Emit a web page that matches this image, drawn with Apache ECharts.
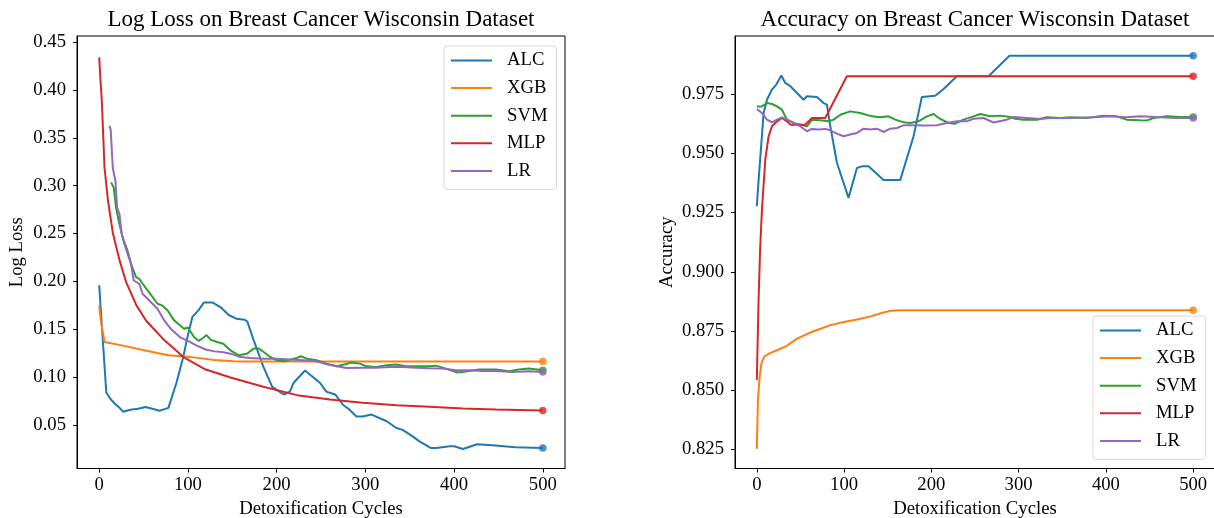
<!DOCTYPE html>
<html>
<head>
<meta charset="utf-8">
<script src="https://cdn.jsdelivr.net/npm/echarts@6/dist/echarts.min.js"></script>
<style>
html,body{margin:0;padding:0;background:#fff;}
#c{width:1214px;height:518px;}
</style>
</head>
<body>
<div id="c"></div>
<script>
// ---------- data ----------
const seriesNames = ['ALC', 'XGB', 'SVM', 'MLP', 'LR'];
const xTicks = [0, 100, 200, 300, 400, 500];
const lossTicks = [0.05, 0.10, 0.15, 0.20, 0.25, 0.30, 0.35, 0.40, 0.45];
const accTicks = [0.825, 0.850, 0.875, 0.900, 0.925, 0.950, 0.975];

// Log loss (x = detoxification cycle, y = log loss)
const lossALC = [[0,0.196],[8,0.084],[13,0.077],[18,0.072],[22,0.069],[27,0.064],[35,0.066],[44,0.067],[52,0.069],[60,0.067],[68,0.065],[78,0.068],[87,0.094],[95,0.122],[99,0.140],[105,0.163],[112,0.170],[118,0.178],[128,0.178],[137,0.173],[146,0.165],[155,0.161],[164,0.160],[167,0.158],[174,0.139],[185,0.111],[195,0.090],[208,0.082],[215,0.085],[219,0.094],[232,0.107],[249,0.094],[256,0.085],[266,0.082],[275,0.071],[281,0.067],[290,0.059],[297,0.059],[307,0.061],[324,0.054],[335,0.047],[342,0.045],[352,0.039],[361,0.033],[374,0.026],[380,0.026],[395,0.028],[400,0.028],[410,0.025],[426,0.030],[443,0.029],[469,0.027],[500,0.026]];
const lossXGB = [[0,0.175],[2,0.158],[6,0.137],[10,0.136],[27,0.133],[52,0.128],[78,0.123],[104,0.121],[130,0.118],[151,0.1168],[165,0.1165],[500,0.1165]];
const lossSVM = [[13.4,0.3035],[16.4,0.298],[19,0.277],[22.8,0.260],[26.5,0.246],[32,0.232],[36,0.218],[41.5,0.2045],[45,0.203],[49,0.1976],[54.5,0.1906],[60,0.184],[65.7,0.1767],[71,0.175],[77,0.170],[84.4,0.1594],[90,0.155],[95.6,0.1507],[100,0.152],[106.8,0.142],[112,0.138],[117,0.141],[121,0.144],[126,0.139],[132,0.137],[140,0.135],[148,0.128],[157,0.123],[166.6,0.1246],[174,0.1299],[180,0.1299],[185.4,0.1264],[192.8,0.1212],[200.3,0.1177],[207.8,0.1167],[215.2,0.1184],[222.7,0.1201],[227.2,0.1219],[234,0.1194],[245,0.1177],[256.4,0.1142],[267.6,0.1114],[277,0.1135],[284.4,0.1153],[293.7,0.1142],[301.2,0.1114],[312.4,0.1108],[323.6,0.1125],[334.8,0.1132],[346,0.1114],[357.2,0.1114],[372.2,0.1114],[379.6,0.1121],[390.8,0.109],[403.9,0.1049],[417,0.1066],[428.3,0.108],[447,0.108],[461.9,0.1062],[473.1,0.108],[484.3,0.109],[500,0.1073]];
const lossMLP = [[0,0.434],[1.5,0.41],[3,0.388],[6,0.319],[10,0.284],[15.5,0.250],[23,0.222],[30.5,0.199],[42,0.175],[53,0.159],[72,0.140],[95,0.121],[120,0.108],[148,0.0997],[185,0.090],[223,0.0813],[260,0.0767],[297,0.0733],[335,0.0708],[372,0.0691],[410,0.0674],[447,0.0663],[500,0.0653]];
const lossLR = [[11.6,0.3625],[13,0.358],[15.3,0.319],[18.3,0.305],[20.2,0.277],[22.8,0.2705],[25.4,0.2497],[28.4,0.2393],[32.1,0.2288],[35.9,0.2184],[38.9,0.201],[45.2,0.1976],[48.9,0.1872],[56.4,0.1802],[65.7,0.1715],[73.2,0.1594],[80.6,0.1507],[91.8,0.1413],[100,0.138],[110,0.133],[120,0.129],[130,0.127],[140,0.126],[148,0.1246],[159.2,0.1212],[170.4,0.1201],[185.4,0.1194],[200.3,0.1194],[215.2,0.1184],[230.2,0.1177],[245.1,0.1167],[256.4,0.1135],[267.6,0.1114],[278.9,0.1097],[297.6,0.110],[312.4,0.110],[327.4,0.1108],[342.3,0.1108],[357.2,0.110],[372.2,0.1094],[387.1,0.109],[402.1,0.1073],[417,0.1073],[431.9,0.1066],[447,0.1066],[465.7,0.1055],[484.3,0.1062],[500,0.1055]];

// Accuracy
const accALC = [[0,0.9277],[2.1,0.939],[7.8,0.967],[11.6,0.9726],[17.4,0.9769],[22.3,0.979],[28.1,0.9828],[32.6,0.9797],[38.4,0.9783],[53.6,0.9726],[57.4,0.9741],[68.9,0.9738],[76.5,0.9712],[80.3,0.9705],[84.2,0.9614],[91.8,0.946],[105.1,0.9312],[114.7,0.9438],[120.4,0.9445],[128,0.9445],[145.2,0.9387],[164.3,0.9387],[179.6,0.9572],[189.1,0.9738],[204.4,0.9743],[214,0.9771],[229.2,0.9825],[265.5,0.9825],[289.5,0.9912],[500,0.9912]];
const accXGB = [[0,0.8253],[1.3,0.8463],[3.4,0.8562],[5.5,0.8618],[8.8,0.8643],[15.1,0.8657],[23.5,0.867],[33.1,0.8685],[46.6,0.8719],[63.3,0.8747],[84.3,0.8775],[101.1,0.8789],[117.9,0.8801],[130.5,0.8812],[143,0.8826],[153.5,0.8836],[164,0.8838],[500,0.8838]];
const accSVM = [[0,0.9698],[5.9,0.9698],[11.6,0.9712],[17.4,0.9708],[23.1,0.9698],[28.8,0.9684],[34.5,0.9642],[42.2,0.9628],[49.8,0.9621],[57.4,0.9614],[63.2,0.9642],[72.7,0.9639],[82.2,0.9635],[88,0.9642],[95.6,0.9663],[107,0.9677],[118.5,0.967],[131.9,0.9656],[141.4,0.9652],[151,0.9656],[158.6,0.9642],[168.1,0.9631],[175.8,0.9628],[185.3,0.9635],[194.8,0.9656],[202.5,0.9666],[210.1,0.9645],[219.7,0.9628],[227.3,0.9625],[236.8,0.9642],[248.3,0.9656],[255.9,0.9666],[267.4,0.9656],[278.8,0.9659],[290.2,0.9653],[296,0.9646],[305.5,0.9642],[320.8,0.9642],[332.2,0.9652],[347.5,0.9649],[359,0.9652],[378,0.9649],[397.1,0.9659],[412.4,0.9656],[423.8,0.9642],[439.1,0.9639],[446.7,0.9638],[454.4,0.9649],[469.6,0.9656],[484.9,0.9653],[500,0.9653]];
const accMLP = [[0,0.8544],[2,0.888],[3.8,0.9096],[5.9,0.9263],[9.7,0.9474],[13.5,0.9572],[17.4,0.9614],[23.1,0.9635],[28.8,0.9649],[34.5,0.9635],[38.4,0.9621],[55.5,0.9621],[63.2,0.9649],[78.4,0.9649],[103.2,0.9825],[500,0.9825]];
const accLR = [[0,0.9687],[5.9,0.967],[11.6,0.9642],[17.4,0.9631],[23.1,0.9642],[28.8,0.9652],[34.5,0.9642],[42.2,0.9628],[49.8,0.9614],[57.4,0.9593],[63.2,0.9603],[70.8,0.96],[78.4,0.9603],[84.2,0.9597],[91.8,0.9583],[99.4,0.9572],[107,0.9579],[114.7,0.9586],[122.3,0.9604],[130,0.96],[137.6,0.9604],[145.2,0.959],[152.9,0.9604],[160.5,0.9607],[168.1,0.9618],[175.8,0.9618],[191,0.9617],[206.3,0.9618],[217.7,0.9628],[229.2,0.9635],[240.6,0.9635],[248.3,0.9646],[259.7,0.9649],[271.2,0.963],[286.4,0.9642],[294.1,0.9653],[309.3,0.9649],[324.6,0.9645],[336,0.9649],[359,0.9649],[385.7,0.9652],[404.8,0.9656],[423.8,0.9652],[439.1,0.9656],[462,0.9652],[481.1,0.9649],[500,0.9649]];

// ---------- chart ----------
const colors = ['#1f77b4', '#ff7f0e', '#2ca02c', '#d62728', '#9467bd'];
const FONT = '"Liberation Serif", "Times New Roman", serif';
const lossData = [lossALC, lossXGB, lossSVM, lossMLP, lossLR];
const accData = [accALC, accXGB, accSVM, accMLP, accLR];

function xAxisCfg(gi) {
  return {
    gridIndex: gi, type: 'value', min: -25, max: 525,
    axisLine: {show: true, onZero: false, lineStyle: {color: '#000', width: 1}},
    axisTick: {show: true, inside: false, length: 4, lineStyle: {color: '#000', width: 1}, customValues: xTicks},
    axisLabel: {customValues: xTicks, margin: 7, fontFamily: FONT, fontSize: 18.7, color: '#000'},
    splitLine: {show: false},
    name: 'Detoxification Cycles', nameLocation: 'middle', nameGap: 29,
    nameTextStyle: {fontFamily: FONT, fontSize: 18.7, color: '#000'}
  };
}
function yAxisCfg(gi, min, max, ticks, dec, name, gap) {
  return {
    gridIndex: gi, type: 'value', min: min, max: max,
    axisLine: {show: true, onZero: false, lineStyle: {color: '#000', width: 1}},
    axisTick: {show: true, inside: false, length: 4, lineStyle: {color: '#000', width: 1}, customValues: ticks},
    axisLabel: {customValues: ticks, margin: 11, fontFamily: FONT, fontSize: 18.7, color: '#000',
      formatter: v => Number(v).toFixed(dec)},
    splitLine: {show: false},
    name: name, nameLocation: 'middle', nameGap: gap,
    nameTextStyle: {fontFamily: FONT, fontSize: 18.7, color: '#000'}
  };
}
function legendCfg(left, top) {
  return {
    orient: 'vertical', left: left, top: top,
    icon: 'rect', itemWidth: 41, itemHeight: 2, itemGap: 8.6,
    padding: [5, 9, 9, 7],
    borderColor: '#d9d9d9', borderWidth: 1, borderRadius: 3,
    backgroundColor: 'rgba(255,255,255,0.85)',
    textStyle: {fontFamily: FONT, fontSize: 18.7, color: '#000', lineHeight: 19, padding: [0, 0, 0, 10]},
    data: seriesNames
  };
}

const series = [];
[lossData, accData].forEach((set, gi) => {
  set.forEach((d, i) => {
    series.push({
      name: seriesNames[i], type: 'line', xAxisIndex: gi, yAxisIndex: gi,
      data: d, showSymbol: false, symbol: 'none', color: colors[i],
      lineStyle: {width: 2, color: colors[i]}, z: 2 + i, animation: false
    });
  });
  set.forEach((d, i) => {
    series.push({
      name: seriesNames[i] + ' end', type: 'scatter', xAxisIndex: gi, yAxisIndex: gi,
      data: [d[d.length - 1]], symbol: 'circle', symbolSize: 7.5,
      itemStyle: {color: colors[i]}, z: 10 + i, animation: false
    });
  });
});

const chart = echarts.init(document.getElementById('c'), null, {renderer: 'canvas'});
chart.setOption({
  backgroundColor: '#fff',
  animation: false,
  grid: [
    {left: 77, top: 36, width: 488, height: 432.5, show: true, borderColor: '#000', borderWidth: 1, containLabel: false, outerBoundsMode: 'none'},
    {left: 735, top: 36, width: 480, height: 432.5, show: true, borderColor: '#000', borderWidth: 1, containLabel: false, outerBoundsMode: 'none'}
  ],
  xAxis: [xAxisCfg(0), xAxisCfg(1)],
  yAxis: [
    yAxisCfg(0, 0.0047, 0.4563, lossTicks, 2, 'Log Loss', 50),
    yAxisCfg(1, 0.8170, 0.9995, accTicks, 3, 'Accuracy', 58)
  ],
  legend: [legendCfg(444, 46), legendCfg(1093, 316)],
  graphic: [
    {type: 'text', x: 321, y: 19.5, style: {text: 'Log Loss on Breast Cancer Wisconsin Dataset', font: '23px ' + FONT, fill: '#000', textAlign: 'center', textVerticalAlign: 'middle'}},
    {type: 'text', x: 975, y: 19.5, style: {text: 'Accuracy on Breast Cancer Wisconsin Dataset', font: '23px ' + FONT, fill: '#000', textAlign: 'center', textVerticalAlign: 'middle'}}
  ],
  series: series
});
</script>
</body>
</html>
